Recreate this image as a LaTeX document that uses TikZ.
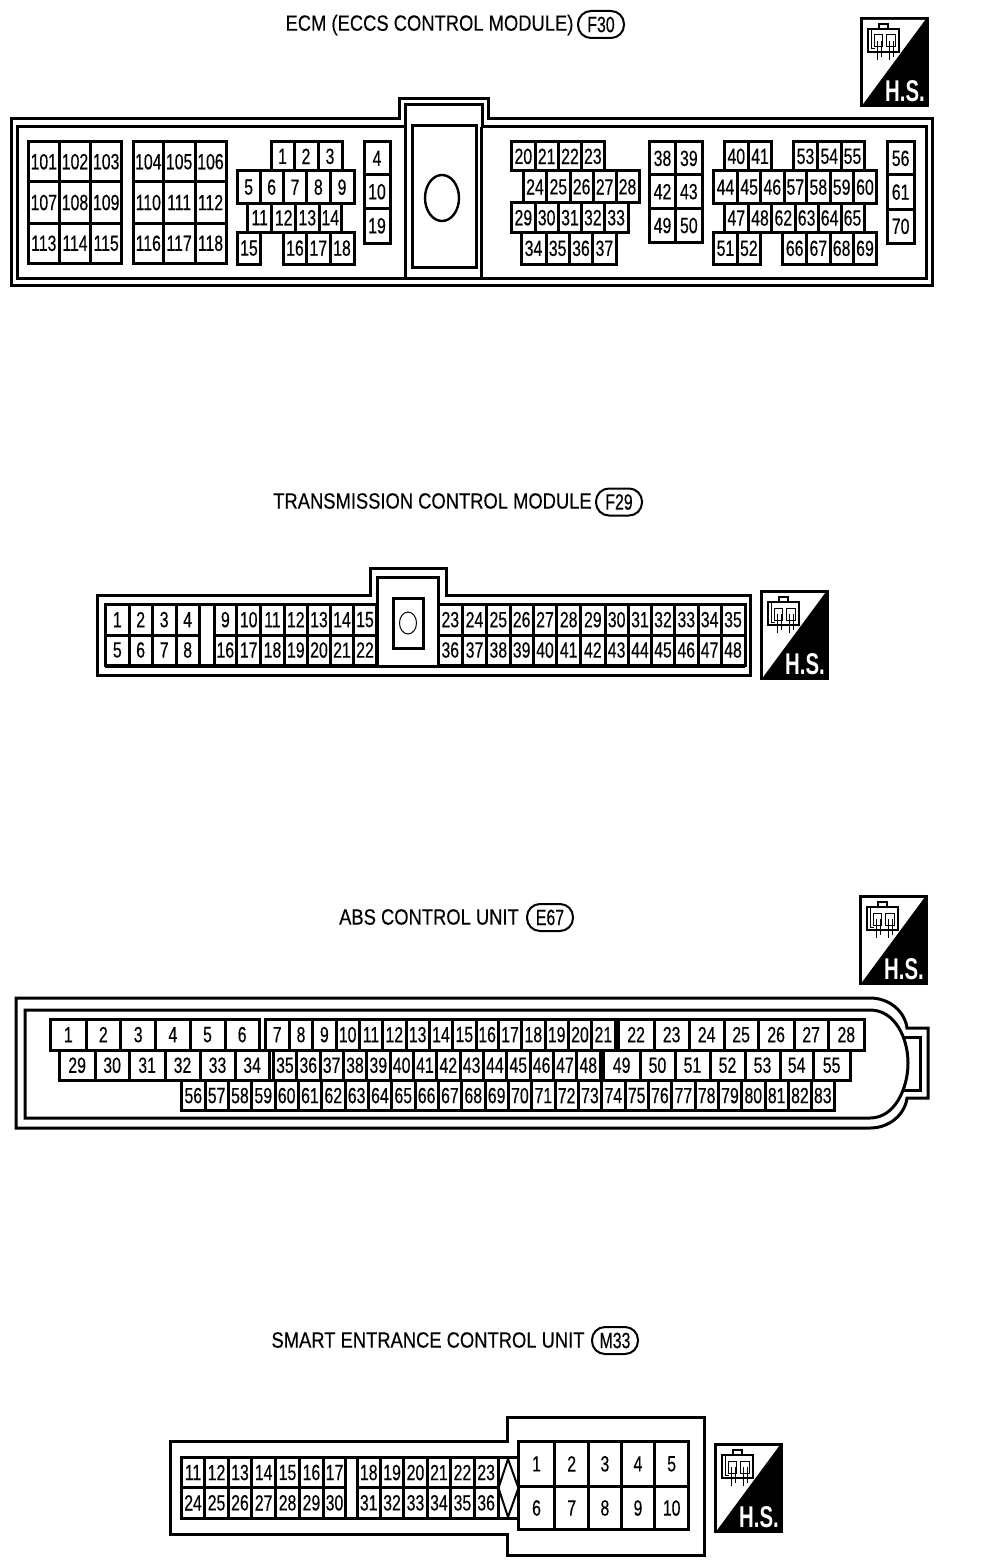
\documentclass[tikz,border=0pt]{standalone}
\usepackage{fontspec}
\newfontfamily\pinfont[FakeStretch=0.72,FakeBold=0.35]{Liberation Sans}
\newfontfamily\titlefont[FakeStretch=0.835,FakeBold=0.35]{Liberation Sans}
\newfontfamily\hsfont[FakeStretch=0.68]{Liberation Sans Bold}
\newcommand{\pinrow}[5]{
    \foreach \n/\xb [remember=\xb as \xa (initially #4)] in {#5}
        \node[pincell,minimum width={\xb pt-\xa pt},minimum height={#3 pt-#2 pt}] (#1\n) at ({(\xa+\xb)/2},{(#2+#3)/2}) {\n};
}
\tikzset{
    frameline/.style={line width=3pt,line join=miter},
    pincell/.style={draw,line width=3pt,inner sep=0pt,outer sep=0pt,font=\pinfont\fontsize{22}{22}\selectfont},
    titletext/.style={inner sep=0pt,font=\titlefont\fontsize{22}{22}\selectfont},
    badge/.style={draw,line width=2pt,rounded corners=13pt,minimum width=46pt,minimum height=27pt,inner sep=0pt,font=\pinfont\fontsize{22}{22}\selectfont},
    hsmark/.pic={
        \fill[black] (0,0) rectangle (69,90);
        \fill[white] (3,3) -- (65,3) -- (3,87) -- cycle;
        \node[text=white,inner sep=0pt,font=\hsfont\fontsize{30}{30}\selectfont] (label) at (45,74) {H.S.};
        \draw[line width=1.2pt] (8,12) rectangle (39,35);
        \draw[line width=1.2pt] (19,12) -- (19,7) -- (28,7) -- (28,12);
        \draw[line width=1pt] (11,12) -- (11,32) -- (15,32);
        \draw[line width=1pt] (14,18) rectangle (22,30);
        \draw[line width=1pt] (26,18) rectangle (35,30);
        \draw[line width=1pt] (17,24) -- (17,43);
        \draw[line width=1pt] (21,24) -- (21,40);
        \draw[line width=1pt] (29,24) -- (29,43);
        \draw[line width=1pt] (33,24) -- (33,40);
    }
}
\begin{document}
\begin{tikzpicture}[x=1pt,y=-1pt]
    \useasboundingbox (0,0) rectangle (992,1562);
    \node[titletext] (ecmtitle) at (429.5,25) {ECM (ECCS CONTROL MODULE)};
    \node[badge] (ecmbadge) at (601,24.5) {F30};
    \pic (ecmhs) at (860,17) {hsmark};
    \draw[frameline] (11,119) -- (399,119) -- (399,99) -- (488,99) -- (488,119) -- (932,119) -- (932,285) -- (11,285) -- cycle;
    \draw[frameline] (17,127) -- (405,127) -- (405,105) -- (482,105) -- (482,127) -- (926,127) -- (926,278) -- (17,278) -- cycle;
    \draw[frameline] (405,127) -- (405,278);
    \draw[frameline] (481,127) -- (481,278);
    \draw[frameline] (412,126) rectangle (476,267);
    \draw[line width=2.4pt] (442,198) ellipse (17 and 23);
    \pinrow{e}{141.7}{181.7}{28.3}{101/59.3,102/90.7,103/121.7}
    \pinrow{e}{181.7}{223.3}{28.3}{107/59.3,108/90.7,109/121.7}
    \pinrow{e}{223.3}{263.3}{28.3}{113/59.3,114/90.7,115/121.7}
    \pinrow{e}{141.7}{181.7}{133.3}{104/163.3,105/195,106/226}
    \pinrow{e}{181.7}{223.3}{133.3}{110/163.3,111/195,112/226}
    \pinrow{e}{223.3}{263.3}{133.3}{116/163.3,117/195,118/226}
    \pinrow{e}{141.7}{171}{271}{1/294,2/318,3/342}
    \pinrow{e}{171}{203.3}{237.3}{5/260,6/283.3,7/306.7,8/330,9/354}
    \pinrow{e}{203.3}{232.3}{247.7}{11/271.7,12/295.7,13/319,14/341.7}
    \pinrow{e}{232.3}{264}{237.3}{15/260.7}
    \pinrow{e}{232.3}{264}{283.3}{16/306.7,17/330,18/354}
    \pinrow{e}{141.7}{175}{364}{4/390}
    \pinrow{e}{175}{208.3}{364}{10/390}
    \pinrow{e}{208.3}{243.3}{364}{19/390}
    \pinrow{e}{141.7}{171}{511.7}{20/535,21/558.3,22/581.7,23/604}
    \pinrow{e}{171}{202.7}{523.3}{24/546.7,25/570,26/593.3,27/616,28/639}
    \pinrow{e}{202.7}{232.7}{511.7}{29/535,30/558.3,31/581.7,32/604,33/628.3}
    \pinrow{e}{232.7}{264}{521}{34/546,35/569.3,36/592.7,37/616}
    \pinrow{e}{141.7}{175}{649.3}{38/675.7,39/702}
    \pinrow{e}{175}{208.3}{649.3}{42/675.7,43/702}
    \pinrow{e}{208.3}{242.7}{649.3}{49/675.7,50/702}
    \pinrow{e}{141.7}{171}{724.3}{40/748.3,41/771.7}
    \pinrow{e}{141.7}{171}{793.3}{53/817.7,54/841,55/864}
    \pinrow{e}{171}{203.3}{713.3}{44/737.7,45/760.7,46/784,57/806.7,58/830,59/853.3,60/876.7}
    \pinrow{e}{203.3}{232.7}{724.3}{47/748.3,48/771.7,62/795,63/818.3,64/841,65/864}
    \pinrow{e}{232.7}{264}{713.3}{51/737.7,52/760}
    \pinrow{e}{232.7}{264}{782.7}{66/806.7,67/830,68/853.3,69/876.7}
    \pinrow{e}{141.7}{175}{887.3}{56/914}
    \pinrow{e}{175}{209.3}{887.3}{61/914}
    \pinrow{e}{209.3}{243.3}{887.3}{70/914}

    \node[titletext] (tcmtitle) at (432.5,501) {TRANSMISSION CONTROL MODULE};
    \node[badge] (tcmbadge) at (619,502) {F29};
    \pic (tcmhs) at (760,590) {hsmark};
    \draw[frameline] (97,595) -- (370,595) -- (370,568) -- (446,568) -- (446,595) -- (750,595) -- (750,675) -- (97,675) -- cycle;
    \draw[frameline] (377,666) -- (377,577) -- (438,577) -- (438,666);
    \draw[frameline] (105,666) -- (745,666);
    \draw[frameline] (393.3,598.3) rectangle (423.3,648.3);
    \draw[line width=1pt] (408,623) ellipse (8.5 and 11);
    \pinrow{t}{604.3}{635}{105.7}{1/129,2/152.3,3/176,4/199.3}
    \pinrow{t}{635}{665}{105.7}{5/129,6/152.3,7/176,8/199.3}
    \pinrow{t}{604.3}{665}{199.3}{/214}
    \pinrow{t}{604.3}{635}{214}{9/236.7,10/260.7,11/284.3,12/307.3,13/330.7,14/353.3,15/376.7}
    \pinrow{t}{635}{665}{214}{16/236.7,17/260.7,18/284.3,19/307.3,20/330.7,21/353.3,22/376.7}
    \pinrow{t}{604.3}{635}{438.3}{23/462.3,24/486.7,25/510,26/533.3,27/556.7,28/580.7,29/605,30/628.3,31/651.7,32/674.3,33/698.3,34/721,35/745}
    \pinrow{t}{635}{665}{438.3}{36/462.3,37/486.7,38/510,39/533.3,40/556.7,41/580.7,42/605,43/628.3,44/651.7,45/674.3,46/698.3,47/721,48/745}

    \node[titletext] (abstitle) at (429,917) {ABS CONTROL UNIT};
    \node[badge] (absbadge) at (550,917.5) {E67};
    \pic (abshs) at (859,895) {hsmark};
    \draw[frameline] (16,998) -- (870,998) .. controls (890,998) and (905,1012) .. (907,1028) -- (928,1028) -- (928,1098) -- (907,1098) .. controls (905,1114) and (890,1128) .. (870,1128) -- (16,1128) -- cycle;
    \draw[frameline] (25,1010) -- (870,1010) .. controls (895,1010) and (908,1038) .. (908,1063) .. controls (908,1088) and (895,1118) .. (870,1118) -- (25,1118) -- cycle;
    \draw[frameline] (903,1037) -- (920,1037) -- (920,1090) -- (903,1090);
    \pinrow{a}{1019.3}{1050}{50.7}{1/86,2/120.7,3/155.7,4/190,5/225,6/259.3}
    \pinrow{a}{1019.3}{1050}{265}{7/289.3,8/312.7,9/336,10/359.3,11/382.7,12/406,13/429.3,14/452.7,15/476,16/498.3,17/521.7,18/545,19/568.3,20/591.7,21/615}
    \pinrow{a}{1019.3}{1050}{618.3}{22/654,23/689.3,24/724,25/758.3,26/794,27/828.3,28/864.3}
    \pinrow{a}{1050}{1080.5}{59.3}{29/95,30/129.3,31/165,32/200,33/235,34/269.3}
    \pinrow{a}{1050}{1080.5}{273.3}{35/296.6,36/320,37/343.3,38/366.6,39/390,40/413.3,41/436.6,42/460,43/483.3,44/506.6,45/530,46/553.3,47/576.6,48/600}
    \pinrow{a}{1050}{1080.5}{603.3}{49/640,50/675,51/710,52/745,53/780,54/813.3,55/850}
    \pinrow{a}{1080.5}{1110.7}{181.7}{56/205,57/228.3,58/251.6,59/275,60/298.3,61/321.6,62/345,63/368.3,64/391.6,65/415,66/438.3,67/461.6,68/485,69/508.3,70/531.6,71/555,72/578.3,73/601.6,74/625,75/648.3,76/671.6,77/695,78/718.3,79/741.6,80/765,81/788.3,82/811.6,83/834}

    \node[titletext] (seutitle) at (428,1340) {SMART ENTRANCE CONTROL UNIT};
    \node[badge] (seubadge) at (615,1340.5) {M33};
    \pic (seuhs) at (714,1443) {hsmark};
    \draw[frameline] (170,1441.7) -- (507.8,1441.7) -- (507.8,1417) -- (704,1417) -- (704,1555) -- (507.8,1555) -- (507.8,1534) -- (170,1534) -- cycle;
    \pinrow{s}{1457.7}{1487.3}{181.2}{11/204.9,12/228.2,13/251.8,14/275.5,15/299.6,16/323.3,17/345.7}
    \pinrow{s}{1487.3}{1518.3}{181.2}{24/204.9,25/228.2,26/251.8,27/275.5,28/299.6,29/323.3,30/345.7}
    \pinrow{s}{1457.7}{1518.3}{345.7}{/357.1}
    \pinrow{s}{1457.7}{1487.3}{357.1}{18/380.4,19/403.7,20/427.3,21/450.6,22/474.3,23/498}
    \pinrow{s}{1487.3}{1518.3}{357.1}{31/380.4,32/403.7,33/427.3,34/450.6,35/474.3,36/498}
    \pinrow{s}{1457.7}{1518.3}{498}{/518.4}
    \draw[line width=2pt] (508,1459) -- (518.4,1488) -- (508,1517) -- (498.5,1488) -- cycle;
    \pinrow{s}{1441}{1486.7}{518.4}{1/554.7,2/588.6,3/621.2,4/654.7,5/688.6}
    \pinrow{s}{1486.7}{1529.3}{518.4}{6/554.7,7/588.6,8/621.2,9/654.7,10/688.6}
\end{tikzpicture}
\end{document}
